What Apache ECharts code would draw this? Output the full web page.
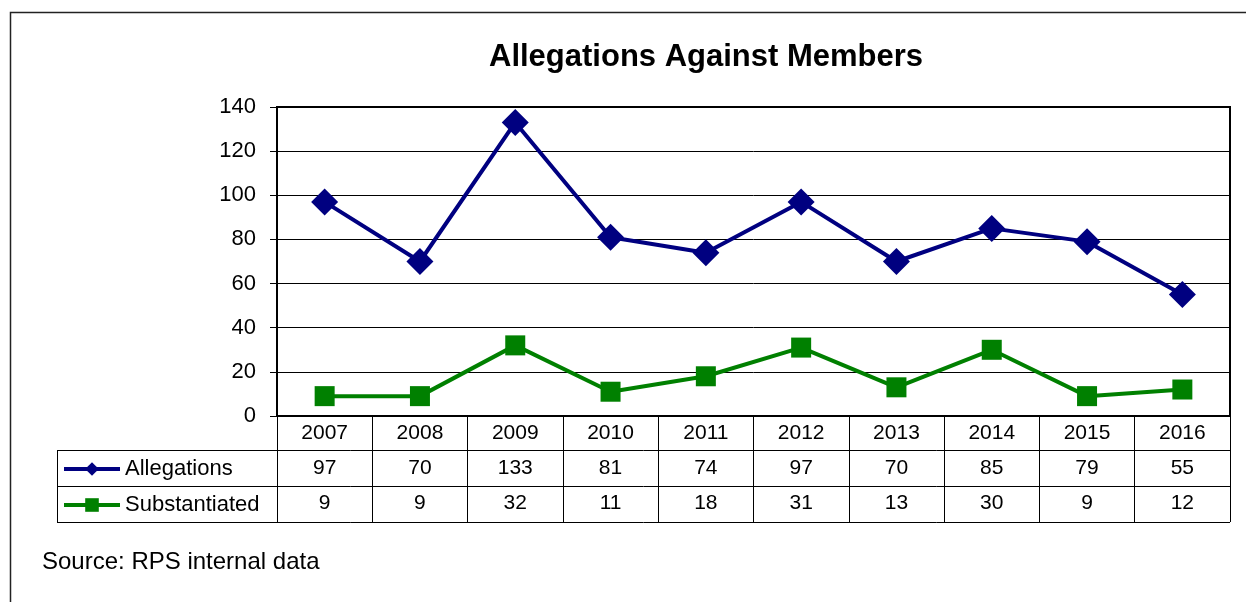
<!DOCTYPE html>
<html>
<head>
<meta charset="utf-8">
<script src="https://cdn.jsdelivr.net/npm/echarts@6/dist/echarts.min.js"></script>
<style>
  html, body { margin: 0; padding: 0; background: #fff; }
  #main { width: 1246px; height: 602px; }
</style>
</head>
<body>
<div id="main"></div>
<script>
var years = ['2007', '2008', '2009', '2010', '2011', '2012', '2013', '2014', '2015', '2016'];
var allegations = [97, 70, 133, 81, 74, 97, 70, 85, 79, 55];
var substantiated = [9, 9, 32, 11, 18, 31, 13, 30, 9, 12];
var yTicks = [0, 20, 40, 60, 80, 100, 120, 140];

var fontFam = 'Arial, "Liberation Sans", sans-serif';
var chart = echarts.init(document.getElementById('main'));

var option = {
	backgroundColor: '#fff',
	animation: false,
	title: {
		text: 'Allegations Against Members',
		left: 489,
		top: 42,
		padding: 0,
		textStyle: { fontFamily: fontFam, fontSize: 31, fontWeight: 'bold', color: '#000' }
	},
	legend: {
		orient: 'vertical',
		left: 62,
		top: 457,
		padding: 0,
		itemWidth: 56,
		itemHeight: 17,
		itemGap: 12,
		selectedMode: false,
		lineStyle: { width: 4 },
		textStyle: { fontFamily: fontFam, fontSize: 22, lineHeight: 24, color: '#000' },
		data: ['Allegations', 'Substantiated']
	},
	grid: {
		left: 277,
		right: 16,
		top: 107,
		bottom: 186,
		show: true,
		borderColor: '#000',
		borderWidth: 2
	},
	xAxis: {
		type: 'category',
		data: years,
		boundaryGap: true,
		axisLine: { show: true, lineStyle: { color: '#000', width: 2 } },
		axisTick: { show: true, interval: 0, length: 106, lineStyle: { color: '#000', width: 1 } },
		axisLabel: {
			interval: 0,
			margin: 0,
			fontFamily: fontFam,
			fontSize: 21,
			lineHeight: 35,
			color: '#000',
			formatter: function (value, idx) {
				return value + '\n' + allegations[idx] + '\n' + substantiated[idx];
			}
		}
	},
	yAxis: {
		type: 'value',
		min: yTicks[0],
		max: yTicks[yTicks.length - 1],
		interval: 20,
		axisLine: { show: true, lineStyle: { color: '#000', width: 2 } },
		axisTick: { show: true, length: 7, lineStyle: { color: '#000', width: 1 } },
		axisLabel: { margin: 21, fontFamily: fontFam, fontSize: 22, color: '#000' },
		splitLine: { show: true, lineStyle: { color: '#000', width: 1 } }
	},
	series: [{
		name: 'Allegations',
		type: 'line',
		data: allegations,
		symbol: 'diamond',
		symbolSize: 27,
		lineStyle: { color: '#000080', width: 4 },
		itemStyle: { color: '#000080' }
	}, {
		name: 'Substantiated',
		type: 'line',
		data: substantiated,
		symbol: 'rect',
		symbolSize: 20,
		lineStyle: { color: '#008000', width: 4 },
		itemStyle: { color: '#008000' }
	}],
	graphic: [
		// outer frame
		{ type: 'rect', shape: { x: 10.5, y: 12.5, width: 1300, height: 700 }, style: { fill: 'none', stroke: '#222', lineWidth: 1.5 }, silent: true },
		// table rows
		{ type: 'line', shape: { x1: 57, y1: 450.5, x2: 1230, y2: 450.5 }, style: { stroke: '#000', lineWidth: 1 } },
		{ type: 'line', shape: { x1: 57, y1: 486.5, x2: 1230, y2: 486.5 }, style: { stroke: '#000', lineWidth: 1 } },
		{ type: 'line', shape: { x1: 57, y1: 522.5, x2: 1230, y2: 522.5 }, style: { stroke: '#000', lineWidth: 1 } },
		{ type: 'line', shape: { x1: 57.5, y1: 450, x2: 57.5, y2: 523 }, style: { stroke: '#000', lineWidth: 1 } },
		// source note
		{ type: 'text', left: 42, top: 550, style: { text: 'Source: RPS internal data', font: '24px ' + fontFam, fill: '#000' } }
	]
};
chart.setOption(option);
</script>
</body>
</html>
